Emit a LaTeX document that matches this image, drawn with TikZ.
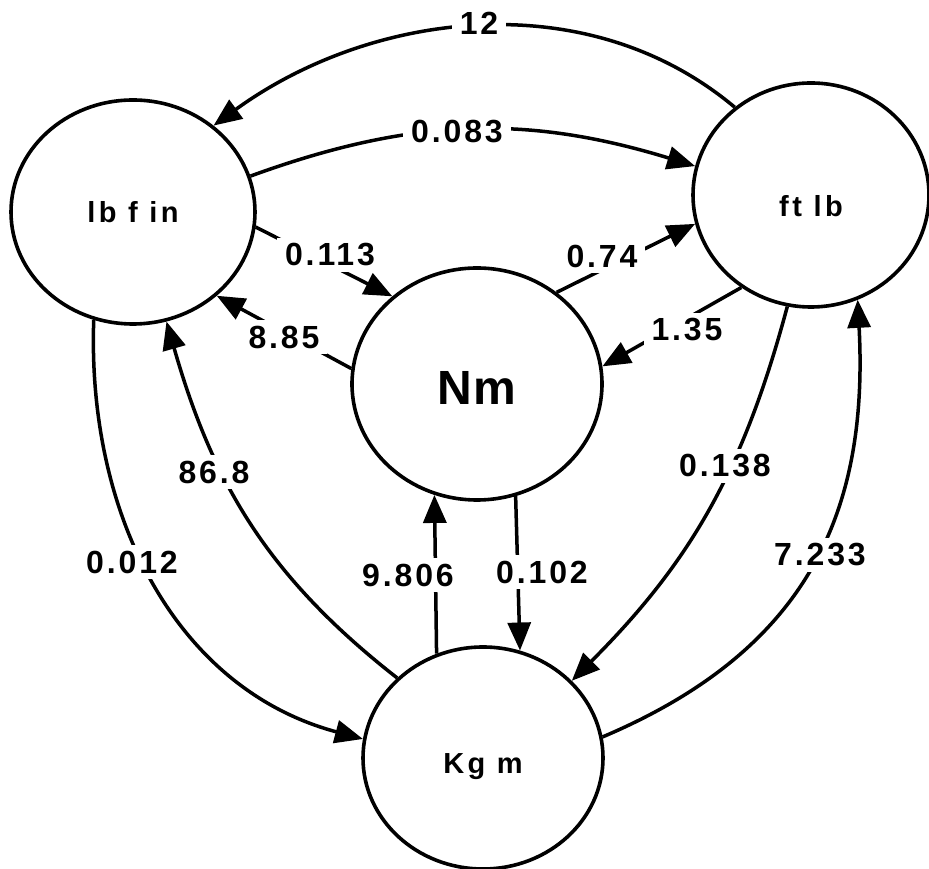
\documentclass[tikz,border=0pt]{standalone}
\usepackage{fontspec}
\setmainfont{Liberation Sans}
\newfontfamily\numfont[LetterSpace=9]{Liberation Sans}
\newfontfamily\unitfont[LetterSpace=12]{Liberation Sans}
\newfontfamily\bigfont[LetterSpace=3]{Liberation Sans}
\usetikzlibrary{arrows.meta,shapes.geometric}
\begin{document}
\begin{tikzpicture}[x=1pt,y=1pt,
  unit/.style={ellipse, draw, line width=3.6pt, inner sep=0pt},
  unittext/.style={inner sep=0pt, text depth=0pt, font=\unitfont\bfseries\fontsize{29}{32}\selectfont},
  conv/.style={line width=3.5pt, -{Triangle[length=28pt,width=23pt]}},
  num/.style={fill=white, inner xsep=8pt, inner ysep=6pt, font=\numfont\bfseries\fontsize{32}{36}\selectfont}]
\useasboundingbox (0,0) rectangle (929,869);
% units
\node[unit, minimum width=244pt, minimum height=224pt,
      label={[unittext]center:lb f in}] (A) at (133,657) {};
\node[unit, minimum width=236pt, minimum height=224pt,
      label={[unittext, yshift=-11pt]center:ft lb}] (B) at (811,674) {};
\node[unit, minimum width=250pt, minimum height=232pt,
      label={[inner sep=0pt, text depth=0pt, font=\bigfont\bfseries\fontsize{48}{52}\selectfont, yshift=-4pt]center:Nm}] (C) at (477,485) {};
\node[unit, minimum width=240pt, minimum height=222pt,
      label={[unittext, yshift=-6pt]center:Kg m}] (D) at (483,111) {};
% label positions
\coordinate (p12) at (479,846);
\coordinate (p083) at (457,737);
\coordinate (p113) at (330,614);
\coordinate (p885) at (284,532);
\coordinate (p074) at (602,613);
\coordinate (p135) at (687,539);
\coordinate (p868) at (214,397);
\coordinate (p012) at (132,307);
\coordinate (p9806) at (408,294);
\coordinate (p102) at (542,297);
\coordinate (p138) at (725,403);
\coordinate (p7233) at (820,314);
% connectors
\draw[conv] (B.131) to[out=140,in=36,looseness=0.95] (A.47);
\draw[conv] (A.17) to[out=20,in=163] (B.166);
\draw[conv] (A.-7) -- (C.134);
\draw[conv] (C.173) -- (A.-45);
\draw[conv] (C.49) -- (B.194);
\draw[conv] (B.233) -- (C.8);
\draw[conv] (A.250) to[out=-92,in=165] (D.171);
\draw[conv] (D.137) to[out=142,in=-74] (A.-73);
\draw[conv] (D.114) -- (C.-111);
\draw[conv] (C.-71) -- (D.71);
\draw[conv] (B.258) to[out=-105,in=45] (D.41);
\draw[conv] (D.10) to[out=23,in=-87,looseness=1.1] (B.-66);
% labels
\node[num] (l12) at (p12) {12};
\node[num] (l083) at (p083) {0.083};
\node[num] (l113) at (p113) {0.113};
\node[num] (l885) at (p885) {8.85};
\node[num] (l074) at (p074) {0.74};
\node[num] (l135) at (p135) {1.35};
\node[num] (l868) at (p868) {86.8};
\node[num] (l012) at (p012) {0.012};
\node[num] (l9806) at (p9806) {9.806};
\node[num] (l102) at (p102) {0.102};
\node[num] (l138) at (p138) {0.138};
\node[num] (l7233) at (p7233) {7.233};
\end{tikzpicture}
\end{document}
